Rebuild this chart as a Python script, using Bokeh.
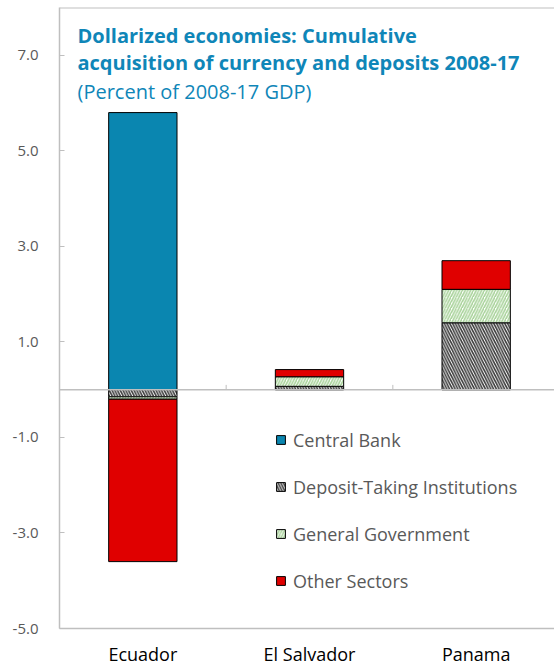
from bokeh.plotting import figure
from bokeh.models import (ColumnDataSource, Legend, LegendItem, Span, Label,
                          FixedTicker, NumeralTickFormatter, Range1d)
from bokeh.embed import file_html
from bokeh.resources import INLINE

# ---- data ----
countries = ["Ecuador", "El Salvador", "Panama"]
central_bank = [5.8, 0.0, 0.0]
deposit_taking = [-0.15, 0.07, 1.4]
general_gov = [-0.05, 0.20, 0.70]
other_sectors = [-3.40, 0.15, 0.60]
y_ticks = [-5, -3, -1, 1, 3, 5, 7]

series = [
    ("Central Bank", central_bank, dict(fill_color="#0a86b0", hatch_pattern=None)),
    ("Deposit-Taking Institutions", deposit_taking,
     dict(fill_color="white", hatch_pattern="left_diagonal_line", hatch_color="#3a3a3a",
          hatch_scale=5.5, hatch_weight=1.6)),
    ("General Government", general_gov,
     dict(fill_color="white", hatch_pattern="right_diagonal_line", hatch_color="#a8d39a",
          hatch_scale=5.5, hatch_weight=1.6)),
    ("Other Sectors", other_sectors, dict(fill_color="#e00000", hatch_pattern=None)),
]

xs = [i + 0.5 for i in range(len(countries))]

p = figure(width=554, height=668, output_backend="svg", toolbar_location=None,
           x_range=Range1d(0, 2.97), y_range=Range1d(-5, 8),
           min_border_left=59, min_border_right=0, min_border_top=7, min_border_bottom=40)
p.outline_line_color = None
p.grid.grid_line_color = None
p.background_fill_color = "white"

pos_base = [0.0] * len(countries)
neg_base = [0.0] * len(countries)
items = []
for name, vals, style in series:
    bottoms, tops = [], []
    for i, v in enumerate(vals):
        if v >= 0:
            bottoms.append(pos_base[i]); tops.append(pos_base[i] + v); pos_base[i] += v
        else:
            tops.append(neg_base[i]); bottoms.append(neg_base[i] + v); neg_base[i] += v
    src = ColumnDataSource(dict(x=xs, top=tops, bottom=bottoms))
    kw = dict(style)
    if kw.get("hatch_pattern") is None:
        kw.pop("hatch_pattern")
    r = p.vbar(x="x", top="top", bottom="bottom", width=0.41, source=src,
               line_color="black", line_width=1, **kw)
    items.append(LegendItem(label=name, renderers=[r]))

# zero line, top frame line and category separators
p.add_layout(Span(location=0, dimension="width", line_color="#bfbfbf", line_width=1.5))
p.add_layout(Span(location=8, dimension="width", line_color="#bfbfbf", line_width=2))
p.segment(x0=[1, 2], x1=[1, 2], y0=[0, 0], y1=[0.1, 0.1], line_color="#bfbfbf", line_width=1)

# axes
p.yaxis.ticker = FixedTicker(ticks=y_ticks)
p.yaxis.formatter = NumeralTickFormatter(format="0.0")
p.yaxis.axis_line_color = "#bfbfbf"
p.yaxis.axis_line_width = 1.5
p.yaxis.major_tick_line_color = "#bfbfbf"
p.yaxis.major_tick_in = 5
p.yaxis.major_tick_out = 0
p.yaxis.minor_tick_line_color = None
p.yaxis.major_label_text_font = "Open Sans"
p.yaxis.major_label_text_font_size = "15px"
p.yaxis.major_label_text_color = "#595959"
p.yaxis.major_label_standoff = 21

p.xaxis.ticker = FixedTicker(ticks=xs)
p.xaxis.major_label_overrides = {x: c for x, c in zip(xs, countries)}
p.xaxis.axis_line_color = "#bfbfbf"
p.xaxis.axis_line_width = 1.5
p.xaxis.major_tick_line_color = None
p.xaxis.minor_tick_line_color = None
p.xaxis.major_label_text_font = "Open Sans"
p.xaxis.major_label_text_font_size = "18px"
p.xaxis.major_label_text_color = "black"
p.xaxis.major_label_standoff = 7

# legend
legend = Legend(items=items, location=(216, 35), orientation="vertical",
                glyph_width=11, glyph_height=11, label_standoff=7, spacing=22,
                padding=0, margin=0, border_line_color=None, background_fill_alpha=0,
                label_text_font="Open Sans", label_text_font_size="18px",
                label_text_color="#595959", label_height=25)
p.add_layout(legend, "center")

# title (baselines measured from plot top)
title_color = "#0f86b8"
for txt, ypos, bold in [("Dollarized economies: Cumulative", 28, True),
                        ("acquisition of currency and deposits 2008-17", 55, True),
                        ("(Percent of 2008-17 GDP)", 84, False)]:
    p.add_layout(Label(x=18, y=621 - ypos, x_units="screen", y_units="screen",
                       text=txt, text_font="Open Sans", text_font_size="20px",
                       text_font_style="bold" if bold else "normal",
                       text_color=title_color, text_baseline="alphabetic"))

open("out.html", "w").write(file_html(p, INLINE))
